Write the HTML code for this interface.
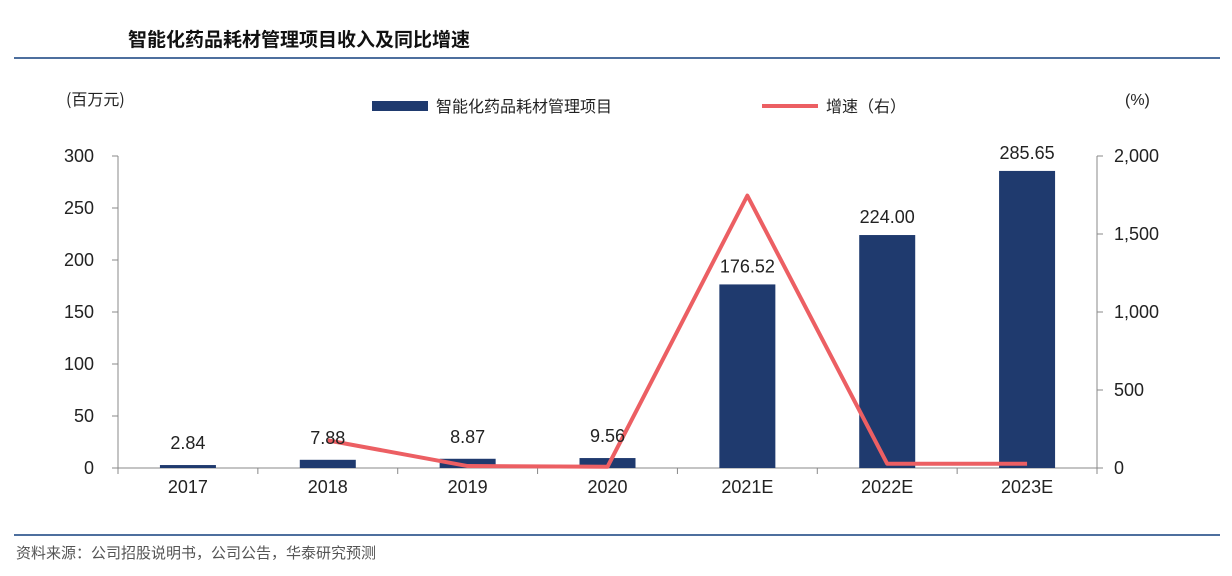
<!DOCTYPE html>
<html><head><meta charset="utf-8"><style>
body{margin:0;background:#fff;width:1232px;height:571px;overflow:hidden;font-family:"Liberation Sans","Noto Sans CJK SC",sans-serif}
</style></head><body>
<svg id="chart" width="1232" height="571" xmlns="http://www.w3.org/2000/svg">
<text x="128" y="46" font-size="19" font-weight="bold" fill="#111" font-family="Noto Sans CJK SC,sans-serif">智能化药品耗材管理项目收入及同比增速</text>
<line x1="14" y1="58" x2="1220" y2="58" stroke="#4d6f9e" stroke-width="2"/>
<text x="66" y="105" font-size="16" fill="#222" font-family="Noto Sans CJK SC,sans-serif">(百万元)</text>
<text x="1125" y="105" font-size="16" fill="#222">(%)</text>
<rect x="372" y="101" width="56" height="10" fill="#1f3a6e"/>
<text x="436" y="112" font-size="16" fill="#222" font-family="Noto Sans CJK SC,sans-serif">智能化药品耗材管理项目</text>
<line x1="762" y1="106" x2="818" y2="106" stroke="#ec5f63" stroke-width="4"/>
<text x="826" y="112" font-size="16" fill="#222" font-family="Noto Sans CJK SC,sans-serif">增速（右）</text>
<g id="plot"></g>
<line x1="14" y1="535" x2="1220" y2="535" stroke="#4d6f9e" stroke-width="2"/>
<text x="16" y="558" font-size="15" fill="#555" font-family="Noto Sans CJK SC,sans-serif">资料来源：公司招股说明书，公司公告，华泰研究预测</text>
</svg>
<script>
const categories=["2017","2018","2019","2020","2021E","2022E","2023E"];
const revenue=[2.84,7.88,8.87,9.56,176.52,224.00,285.65];
const revenueLabels=["2.84","7.88","8.87","9.56","176.52","224.00","285.65"];
const growth=[null,177,12.6,7.8,1746,26.9,27.5];
const leftTicks=[0,50,100,150,200,250,300];
const rightTicks=[0,500,1000,1500,2000];
const rightTickLabels=["0","500","1,000","1,500","2,000"];
const NS="http://www.w3.org/2000/svg";
const g=document.getElementById('plot');
const X0=118,X1=1097,Y0=468,Y1=156;
const bw=(X1-X0)/categories.length;
const xc=i=>X0+bw*(i+0.5);
const yL=v=>Y0-(v/300)*(Y0-Y1);
const yR=v=>Y0-(v/2000)*(Y0-Y1);
function mk(t,a){const e=document.createElementNS(NS,t);for(const k in a)e.setAttribute(k,a[k]);g.appendChild(e);return e;}
let e;
e=mk('line',{x1:X0,y1:Y1,x2:X0,y2:Y0,stroke:'#888'});


e=mk('line',{x1:X1,y1:Y1,x2:X1,y2:Y0,stroke:'#888'});


e=mk('line',{x1:X0,y1:Y0,x2:X1,y2:Y0,stroke:'#888'});


leftTicks.forEach(v=>{
 mk('line',{x1:X0-6,y1:yL(v),x2:X0,y2:yL(v),stroke:'#888'});
 e=mk('text',{x:X0-24,y:yL(v)+6,'font-size':18,'text-anchor':'end',fill:'#222'});e.textContent=v;
 
 
});
rightTicks.forEach((v,i)=>{
 mk('line',{x1:X1,y1:yR(v),x2:X1+6,y2:yR(v),stroke:'#888'});
 e=mk('text',{x:X1+17,y:yR(v)+6,'font-size':18,fill:'#222'});e.textContent=rightTickLabels[i];
 
 
});
for(let i=0;i<=categories.length;i++){mk('line',{x1:X0+bw*i,y1:Y0,x2:X0+bw*i,y2:Y0+6,stroke:'#888'});}
categories.forEach((c,i)=>{
 e=mk('rect',{x:xc(i)-28,y:yL(revenue[i]),width:56,height:Y0-yL(revenue[i]),fill:'#1f3a6e'});
 
 
 e=mk('text',{x:xc(i),y:Y0+25,'font-size':18,'text-anchor':'middle',fill:'#222'});e.textContent=c;
 
 
});
let pts=[];growth.forEach((v,i)=>{if(v!==null)pts.push(xc(i)+','+yR(v));});
e=mk('polyline',{points:pts.join(' '),fill:'none',stroke:'#ec5f63','stroke-width':4,'stroke-linejoin':'round'});


categories.forEach((c,i)=>{
 e=mk('text',{x:xc(i),y:yL(revenue[i])-12-(i<4?14:0),'font-size':18,'text-anchor':'middle',fill:'#222'});
 if(i<4)e.setAttribute('y',yL(revenue[i])-16);
 e.textContent=revenueLabels[i];
 
 
});
</script>
</body></html>
